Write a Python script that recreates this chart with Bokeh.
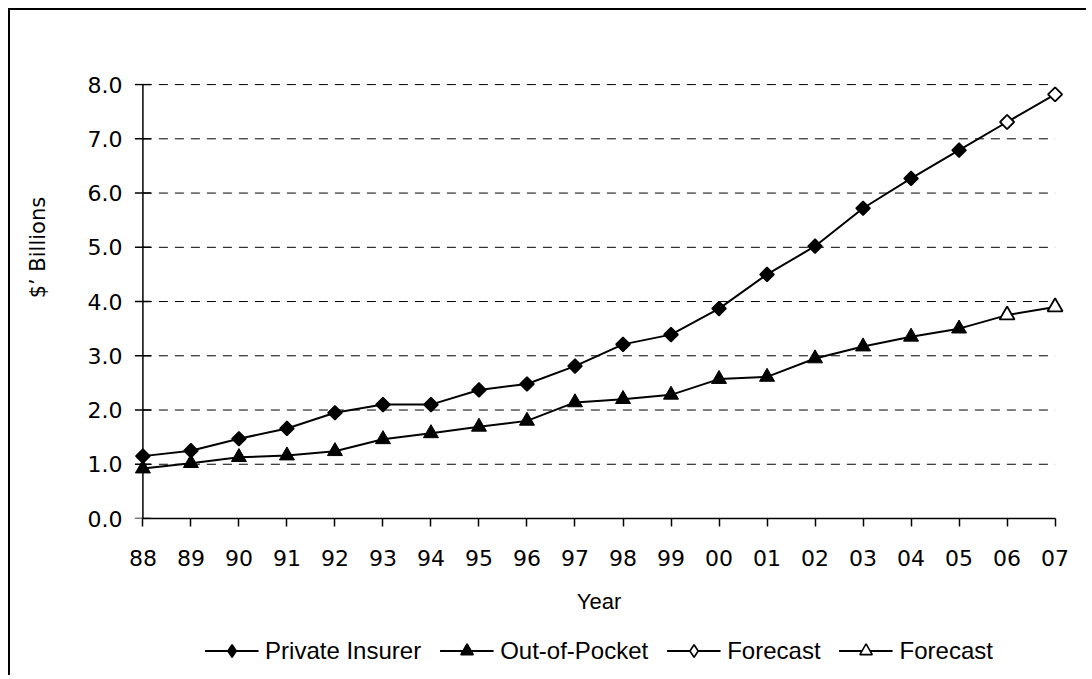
import math
from bokeh.plotting import figure
from bokeh.layouts import column
from bokeh.models import (FixedTicker, NumeralTickFormatter, Range1d, Legend,
                          LegendItem)
from bokeh.embed import file_html
from bokeh.resources import INLINE

years = ["88", "89", "90", "91", "92", "93", "94", "95", "96", "97",
         "98", "99", "00", "01", "02", "03", "04", "05", "06", "07"]
private_insurer = [1.15, 1.25, 1.47, 1.66, 1.95, 2.10, 2.10, 2.37, 2.48, 2.81,
                   3.21, 3.39, 3.87, 4.50, 5.02, 5.72, 6.27, 6.79]
out_of_pocket = [0.92, 1.02, 1.13, 1.16, 1.24, 1.46, 1.57, 1.69, 1.80, 2.14,
                 2.20, 2.28, 2.57, 2.61, 2.95, 3.17, 3.35, 3.50]
forecast_private = [7.31, 7.82]
forecast_oop = [3.75, 3.90]
y_ticks = [0, 1, 2, 3, 4, 5, 6, 7, 8]
legend_labels = ["Private Insurer", "Out-of-Pocket", "Forecast", "Forecast"]

n_act = len(private_insurer)
x_all = list(range(len(years)))
x_act = x_all[:n_act]
x_fc = x_all[n_act:]
x_first, x_last = x_all[0], x_all[-1]

p = figure(width=1078, height=607, output_backend="svg", toolbar_location=None,
           x_range=Range1d(x_first - 0.3, x_last + 0.3),
           y_range=Range1d(y_ticks[0], y_ticks[-1] + 0.02),
           min_border_left=118, min_border_top=73, min_border_right=19,
           min_border_bottom=99)
p.styles = {"position": "relative", "left": "8px", "top": "8px",
            "border-left": "2.5px solid black", "border-top": "2.5px solid black"}
p.outline_line_color = None
p.background_fill_color = "white"
p.border_fill_color = "white"
p.xgrid.grid_line_color = None
p.ygrid.grid_line_color = None

# x axis
p.xaxis.ticker = FixedTicker(ticks=x_all)
p.xaxis.major_label_overrides = {i: y for i, y in enumerate(years)}
p.xaxis.bounds = (x_first, x_last)
p.xaxis.major_tick_out = 8
p.xaxis.major_tick_in = 0
p.xaxis.major_tick_line_color = "black"
p.xaxis.major_tick_line_width = 1.5
p.xaxis.major_label_standoff = 23
p.xaxis.major_label_text_font_size = "22px"
p.xaxis.axis_line_color = "black"
p.xaxis.axis_line_width = 1.5
p.xaxis.axis_label = "Year"
p.xaxis.axis_label_text_font = "Liberation Sans"
p.xaxis.axis_label_text_font_style = "normal"
p.xaxis.axis_label_text_font_size = "22px"
p.xaxis.axis_label_text_color = "black"
p.xaxis.axis_label_standoff = 20

# y axis: labels only; line and ticks are drawn on the first-year position
p.yaxis.ticker = FixedTicker(ticks=y_ticks)
p.yaxis.formatter = NumeralTickFormatter(format="0.0")
p.yaxis.axis_line_color = None
p.yaxis.major_tick_line_color = None
p.yaxis.major_tick_out = 0
p.yaxis.major_tick_in = 0
p.yaxis.major_label_standoff = 6
p.yaxis.major_label_text_font_size = "22px"
p.yaxis.axis_label = "\u00a0" * 16 + "$\u2019 Billions"
p.yaxis.axis_label_text_font = "DejaVu Sans"
p.yaxis.axis_label_text_font_style = "normal"
p.yaxis.axis_label_text_font_size = "21px"
p.yaxis.axis_label_text_color = "black"
p.yaxis.axis_label_standoff = 35

for ax in (p.xaxis, p.yaxis):
    ax.minor_tick_line_color = None
    ax.major_label_text_color = "black"
    ax.major_label_text_font = "DejaVu Sans"

# dashed horizontal gridlines from first to last year
g_y = y_ticks[1:]
p.segment(x0=[x_first] * len(g_y), y0=g_y, x1=[x_last] * len(g_y), y1=g_y,
          line_color="black", line_width=1, line_dash="9 7")
# y axis line and tick marks at first year
p.segment(x0=[x_first], y0=[y_ticks[0]], x1=[x_first], y1=[y_ticks[-1]],
          line_color="black", line_width=1.5)
p.scatter([x_first] * len(y_ticks), y_ticks, marker="dash", size=16,
          line_color="black", line_width=1.5)

# lines (actual + forecast continuous)
p.line(x_all, private_insurer + forecast_private, line_color="black", line_width=2)
p.line(x_all, out_of_pocket + forecast_oop, line_color="black", line_width=2)

PI_STYLE = dict(marker="square", angle=math.pi / 4, size=10)
OOP_STYLE = dict(marker="triangle", size=15)
# forecast markers (open)
p.scatter(x_fc, forecast_private, fill_color="white", line_color="black",
          line_width=1.8, **PI_STYLE)
p.scatter(x_fc, forecast_oop, fill_color="white", line_color="black",
          line_width=1.8, **OOP_STYLE)
# actual markers (filled)
p.scatter(x_act, private_insurer, fill_color="black", line_color="black",
          line_width=1.5, **PI_STYLE)
p.scatter(x_act, out_of_pocket, fill_color="black", line_color="black",
          line_width=1, **OOP_STYLE)

# legend strip below the chart (its renderers hold the series but fall outside its ranges)
leg = figure(width=1078, height=60, output_backend="svg", toolbar_location=None,
             x_axis_location=None, y_axis_location=None,
             x_range=Range1d(-2, -1), y_range=Range1d(-2, -1),
             min_border_left=118, min_border_right=19, min_border_top=0,
             min_border_bottom=0)
leg.styles = {"position": "relative", "left": "8px", "top": "8px",
              "border-left": "2.5px solid black"}
leg.outline_line_color = None
leg.xgrid.grid_line_color = None
leg.ygrid.grid_line_color = None
series = [(x_act, private_insurer), (x_act, out_of_pocket),
          (x_fc, forecast_private), (x_fc, forecast_oop)]
fills = ["black", "black", "white", "white"]
markers = ["diamond", "triangle", "diamond", "triangle"]
items = []
for lab, (xs, ys), fc, mk in zip(legend_labels, series, fills, markers):
    lr = leg.line(xs, ys, line_color="black", line_width=2)
    mr = leg.scatter(xs, ys, marker=mk, size=12, fill_color=fc,
                     line_color="black", line_width=1.6)
    items.append(LegendItem(label=lab, renderers=[lr, mr]))
legend = Legend(items=items, orientation="horizontal", location="bottom_center")
legend.border_line_color = None
legend.background_fill_alpha = 0
legend.padding = 0
legend.margin = 9
legend.spacing = 18
legend.glyph_width = 54
legend.glyph_height = 31
legend.label_standoff = 7
legend.label_text_font = "Liberation Sans"
legend.label_text_font_size = "24px"
legend.label_text_color = "black"
leg.add_layout(legend, "center")

layout = column(p, leg, spacing=0)
open("out.html", "w").write(file_html(layout, INLINE))
